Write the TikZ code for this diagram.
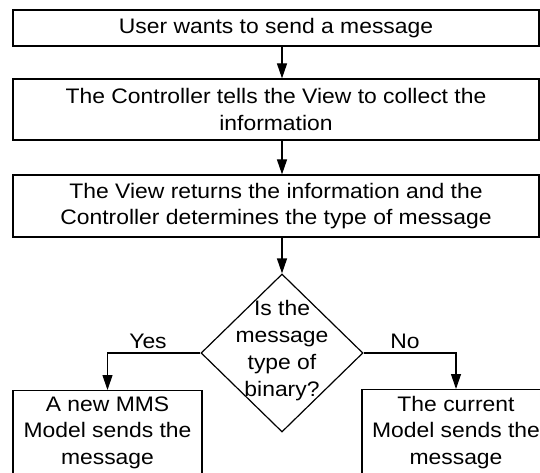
\documentclass[tikz,border=0pt]{standalone}
\usepackage{fontspec}
\setmainfont{Liberation Sans}[FakeStretch=1.09]
\usetikzlibrary{arrows.meta,shapes.geometric}
\begin{document}
\begin{tikzpicture}[x=1pt,y=1pt,
  font=\fontsize{21}{26.5}\selectfont,
  box/.style={draw, line width=1.2pt, align=center, inner sep=0pt},
  decision/.style={draw, diamond, line width=1.2pt, inner sep=0pt, minimum width=162pt, minimum height=158pt},
  flow/.style={line width=1.2pt, -{Triangle[length=15pt,width=10pt]}},
  lbl/.style={anchor=base, inner sep=0pt},
]
\useasboundingbox (0,0) rectangle (540,-473);
\clip (0,0) rectangle (540,-473);

% process steps
\node[box, minimum width=526pt, minimum height=36pt] (start) at (276,-28)
  {User wants to send a message};
\node[box, minimum width=526pt, minimum height=61pt] (collect) at (276,-109.5)
  {The Controller tells the View to collect the\\information};
\node[box, minimum width=526pt, minimum height=62pt] (determine) at (276,-206)
  {The View returns the information and the\\Controller determines the type of message};

% decision
\node[decision] (q) at (282,-353) {};
\node[align=center, inner sep=0pt, font=\fontsize{21}{27}\selectfont] (qtext) at (282,-351)
  {Is the\\message\\type of\\binary?};

% outcomes (running off the lower edge)
\node[box, anchor=north, minimum width=189pt, minimum height=84pt] (yes) at (107.5,-390)
  {A new MMS\\Model sends the\\message};
\node[box, anchor=north, minimum width=188pt, minimum height=85pt] (no) at (456,-389)
  {The current\\Model sends the\\message};

% connectors
\draw[flow] ([xshift=6pt]start.south) -- ([xshift=6pt]collect.north);
\draw[flow] ([xshift=6pt]collect.south) -- ([xshift=6pt]determine.north);
\draw[flow] ([xshift=6pt]determine.south) -- (q.north);
\draw[flow] (q.west) -| (yes.north);
\draw[flow] (q.east) -| (no.north);

% branch labels
\node[lbl] (yeslbl) at (148,-348) {Yes};
\node[lbl] (nolbl) at (405,-348) {No};
\end{tikzpicture}
\end{document}
